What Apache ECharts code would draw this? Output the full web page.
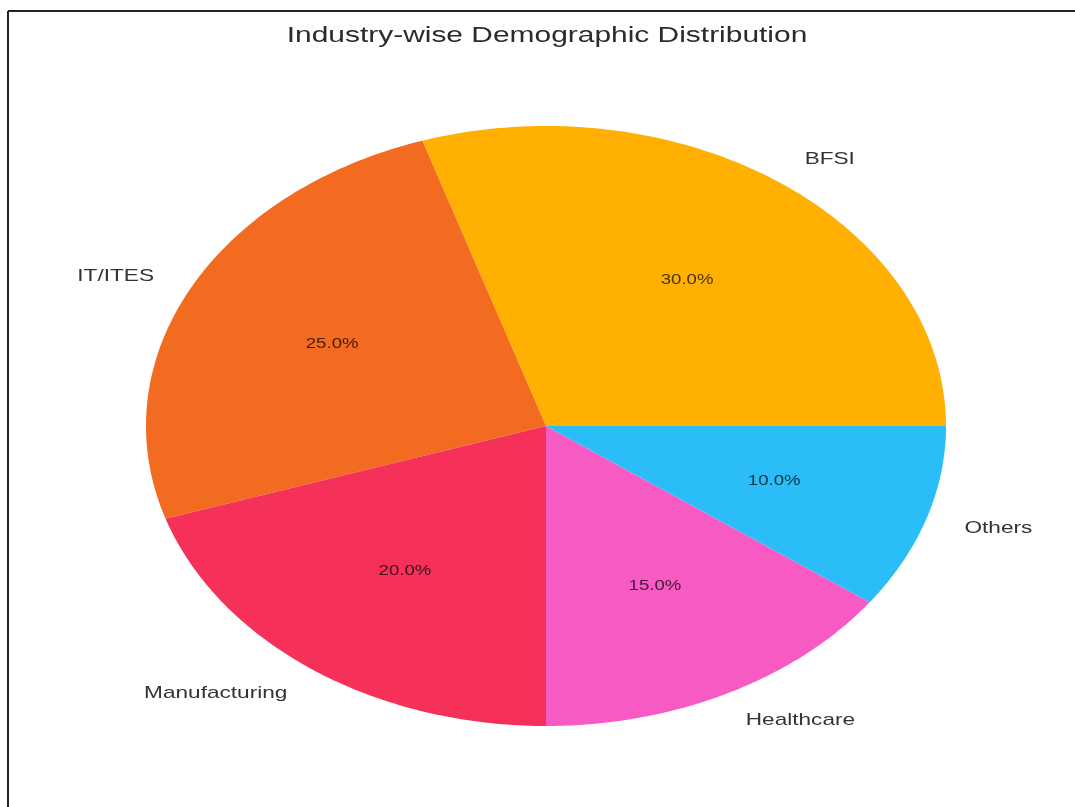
<!DOCTYPE html>
<html>
<head>
<meta charset="utf-8">
<script src="https://cdn.jsdelivr.net/npm/echarts@6/dist/echarts.min.js"></script>
<style>
  html, body { margin: 0; padding: 0; background: #fff; }
  #pie-chart { width: 1075px; height: 807px; }
</style>
</head>
<body>
<div id="pie-chart"></div>
<script>
const chartTitle = 'Industry-wise Demographic Distribution';
const categories = ['BFSI', 'IT/ITES', 'Manufacturing', 'Healthcare', 'Others'];
const shares = [30, 25, 20, 15, 10];
const colors = ['#FFB000', '#F26B21', '#F5315A', '#F75AC3', '#2ABDF8'];

// the source image is stretched sideways, so text gets the same stretch
const STRETCH = 1.33;
const FONT = '"Liberation Sans", Arial, sans-serif';

const total = shares.reduce((a, b) => a + b, 0);

function renderSlice(params, api) {
  const i = params.dataIndex;
  const before = shares.slice(0, i).reduce((a, b) => a + b, 0);
  const a0 = (before / total) * Math.PI * 2;
  const a1 = ((before + api.value(0)) / total) * Math.PI * 2;

  // unit circle in data space -> ellipse on screen via the axes
  const points = [api.coord([0, 0])];
  const steps = 90;
  for (let k = 0; k <= steps; k++) {
    const a = a0 + ((a1 - a0) * k) / steps;
    points.push(api.coord([Math.cos(a), Math.sin(a)]));
  }

  const mid = (a0 + a1) / 2;
  const pctPos = api.coord([0.6 * Math.cos(mid), 0.6 * Math.sin(mid)]);
  const labelPos = api.coord([1.1 * Math.cos(mid), 1.1 * Math.sin(mid)]);
  const pct = ((api.value(0) / total) * 100).toFixed(1) + '%';

  return {
    type: 'group',
    children: [
      {
        type: 'polygon',
        shape: { points: points },
        style: { fill: colors[i], stroke: null },
      },
      {
        type: 'text',
        x: pctPos[0],
        y: pctPos[1],
        scaleX: STRETCH,
        style: {
          text: pct,
          fill: 'rgba(0, 0, 0, 0.72)',
          fontSize: 14,
          fontFamily: FONT,
          align: 'center',
          verticalAlign: 'middle',
        },
      },
      {
        type: 'text',
        x: labelPos[0],
        y: labelPos[1],
        scaleX: STRETCH,
        style: {
          text: categories[i],
          fill: '#333',
          fontSize: 17,
          fontFamily: FONT,
          align: Math.cos(mid) >= 0 ? 'left' : 'right',
          verticalAlign: 'middle',
        },
      },
    ],
  };
}

const chart = echarts.init(document.getElementById('pie-chart'));
chart.setOption({
  animation: false,
  backgroundColor: '#fff',
  grid: { left: 146, top: 126, width: 800, height: 600 },
  xAxis: { type: 'value', min: -1, max: 1, show: false },
  yAxis: { type: 'value', min: -1, max: 1, show: false },
  graphic: [
    {
      type: 'text',
      x: 547,
      y: 36,
      scaleX: STRETCH,
      style: {
        text: chartTitle,
        fill: '#2b2b2b',
        fontSize: 22.5,
        fontFamily: FONT,
        align: 'center',
        verticalAlign: 'middle',
      },
    },
    // frame lines on top and left
    { type: 'line', shape: { x1: 8, y1: 11, x2: 1075, y2: 11 }, style: { stroke: '#222', lineWidth: 2 } },
    { type: 'line', shape: { x1: 8, y1: 11, x2: 8, y2: 807 }, style: { stroke: '#222', lineWidth: 2 } },
  ],
  series: [
    {
      type: 'custom',
      coordinateSystem: 'cartesian2d',
      clip: false,
      silent: true,
      renderItem: renderSlice,
      data: shares.map((v, i) => [v, i]),
      encode: { x: 0, y: 0 },
    },
  ],
});
</script>
</body>
</html>
